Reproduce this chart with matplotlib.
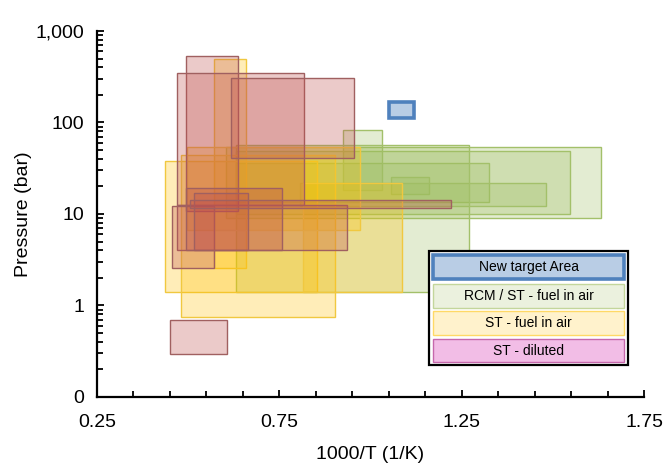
import matplotlib
matplotlib.use("Agg")
import matplotlib.pyplot as plt
from matplotlib.patches import Rectangle
from matplotlib.ticker import FixedLocator, FuncFormatter, LogLocator, NullFormatter

plt.rcParams["font.family"] = ["Liberation Sans", "DejaVu Sans"]

# ST - diluted : bornes 1000/T (1/K) et pression (bar)
dil_x0 = [0.493, 0.469, 0.617, 0.469, 0.456, 0.493, 0.517, 0.505, 0.451]
dil_x1 = [0.637, 0.818, 0.955, 0.935, 0.571, 0.757, 0.664, 1.221, 0.606]
dil_p0 = [10.8, 12.5, 40.9, 4.05, 2.57, 4.05, 4.05, 11.6, 0.293]
dil_p1 = [530, 345, 306, 12.5, 12.3, 19.2, 17.0, 14.2, 0.688]

# ST - fuel in air
fuel_x0 = [0.572, 0.437, 0.480, 0.815, 0.496]
fuel_x1 = [0.658, 0.852, 0.903, 1.086, 0.971]
fuel_p0 = [2.57, 1.41, 0.743, 1.41, 6.68]
fuel_p1 = [494, 37.7, 44.0, 21.8, 54.3]

# RCM / ST - fuel in air
rcm_x0 = [0.605, 0.631, 0.631, 1.056, 0.807, 0.924, 0.631]
rcm_x1 = [1.632, 1.547, 1.326, 1.161, 1.480, 1.032, 1.270]
rcm_p0 = [8.97, 9.93, 13.4, 16.6, 12.2, 18.3, 1.41]
rcm_p1 = [54.3, 49.2, 35.8, 25.6, 21.7, 82.2, 56.8]

# New target area
target_x = [1.05, 1.12]
target_p = [112, 167]

legend_labels = ["New target Area", "RCM / ST - fuel in air",
                 "ST - fuel in air", "ST - diluted"]


def add_boxes(ax, x0, x1, p0, p1, face, edge, alpha):
    for a, b, lo, hi in zip(x0, x1, p0, p1):
        ax.add_patch(Rectangle((a, lo), b - a, hi - lo,
                               facecolor=face, alpha=alpha, lw=0))
        ax.add_patch(Rectangle((a, lo), b - a, hi - lo,
                               facecolor="none", edgecolor=edge, lw=1.0))


def draw_legend(fig):
    lax = fig.add_axes([0.646, 0.218, 0.300, 0.244])
    lax.set_xlim(0, 1)
    lax.set_ylim(0, 1)
    lax.axis("off")
    lax.add_patch(Rectangle((0, 0), 1, 1, facecolor="white",
                            edgecolor="black", lw=1.6, clip_on=False))
    rows = [
        (0.754, 0.965, "#b9cde5", "#4f81bd", 2.6),
        (0.500, 0.711, "#ebf1de", "#c3d69b", 1.0),
        (0.263, 0.474, "#fff2cc", "#ffd966", 1.0),
        (0.026, 0.228, "#f2bde6", "#c668ac", 1.0),
    ]
    for (y0, y1, fc, ec, lw), label in zip(rows, legend_labels):
        lax.add_patch(Rectangle((0.02, y0), 0.96, y1 - y0, facecolor=fc,
                                edgecolor=ec, lw=lw))
        lax.text(0.5, (y0 + y1) / 2, label, ha="center", va="center",
                 fontsize=10)


def main():
    fig = plt.figure(figsize=(6.64, 4.67), dpi=100)
    ax = fig.add_axes([0.146, 0.150, 0.824, 0.7836])
    ax.set_yscale("log")
    ax.set_xlim(0.25, 1.75)
    ax.set_ylim(0.1, 1000)

    add_boxes(ax, rcm_x0, rcm_x1, rcm_p0, rcm_p1, "#9bbb59", "#a3c06a", 0.27)
    add_boxes(ax, fuel_x0, fuel_x1, fuel_p0, fuel_p1, "#ffc000", "#f0c840", 0.28)
    add_boxes(ax, dil_x0, dil_x1, dil_p0, dil_p1, "#c0504d", "#a06060", 0.30)
    ax.add_patch(Rectangle((target_x[0], target_p[0]),
                           target_x[1] - target_x[0], target_p[1] - target_p[0],
                           facecolor="#b9cde5", edgecolor="#4f81bd", lw=2.6))

    for side in ("top", "right"):
        ax.spines[side].set_visible(False)
    for side in ("left", "bottom"):
        ax.spines[side].set_linewidth(1.6)

    ax.xaxis.set_major_locator(FixedLocator([0.25, 0.75, 1.25, 1.75]))
    ax.xaxis.set_minor_locator(FixedLocator([0.25 + 0.1 * i for i in range(16)]))
    ax.yaxis.set_major_locator(LogLocator(base=10))
    ax.yaxis.set_minor_locator(LogLocator(base=10, subs=range(2, 10)))
    ax.yaxis.set_minor_formatter(NullFormatter())
    ax.yaxis.set_major_formatter(FuncFormatter(lambda v, _: f"{v:,.0f}"))
    ax.tick_params(which="both", direction="in", width=1.3, labelsize=14)
    ax.tick_params(which="major", length=5)
    ax.tick_params(which="minor", length=4)
    ax.tick_params(axis="x", which="major", pad=12)
    ax.tick_params(axis="y", which="major", pad=9)

    ax.set_xlabel("1000/T (1/K)", fontsize=14, labelpad=11)
    ax.set_ylabel("Pressure (bar)", fontsize=14, labelpad=3)

    draw_legend(fig)
    fig.savefig("out.png", dpi=100)
    plt.close(fig)


if __name__ == "__main__":
    main()
